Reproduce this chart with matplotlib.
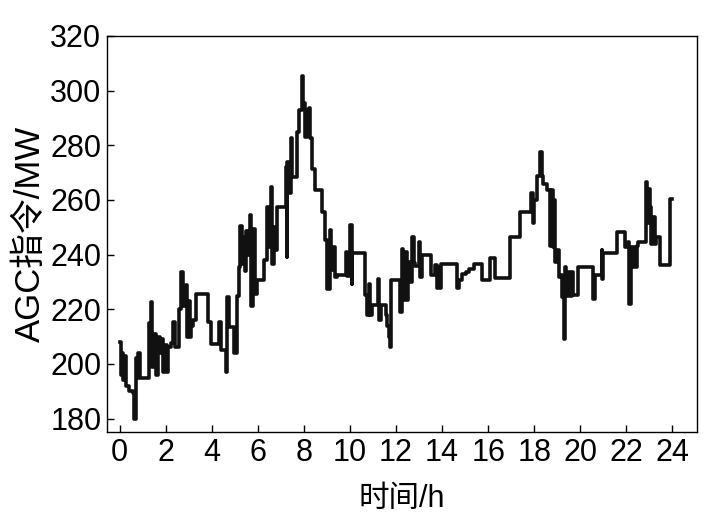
import matplotlib
matplotlib.use("Agg")
import matplotlib.pyplot as plt

plt.rcParams['font.family'] = ['Liberation Sans', 'Noto Sans CJK SC', 'DejaVu Sans']

hours = [0.00, 0.05, 0.10, 0.16, 0.22, 0.26, 0.30, 0.43, 0.57, 0.64, 0.71, 0.76, 0.82, 0.90,
         1.28, 1.35, 1.43, 1.50, 1.58, 1.65, 1.75, 1.83, 1.90, 1.97, 2.05, 2.12, 2.25, 2.32,
         2.40, 2.56, 2.66, 2.74, 2.88, 2.92, 2.98, 3.05, 3.12, 3.20, 3.31, 3.85, 3.96, 4.32,
         4.40, 4.61, 4.65, 4.73, 4.98, 5.08, 5.17, 5.24, 5.30, 5.36, 5.44, 5.50, 5.58, 5.66,
         5.71, 5.80, 5.88, 5.95, 6.25, 6.42, 6.50, 6.56, 6.63, 6.70, 6.78, 6.85, 7.21, 7.25,
         7.29, 7.35, 7.43, 7.50, 7.72, 7.80, 7.92, 7.97, 8.05, 8.12, 8.21, 8.26, 8.36, 8.50,
         8.80, 8.90, 9.02, 9.14, 9.20, 9.28, 9.35, 9.44, 9.81, 9.86, 10.02, 10.07, 10.10,
         10.67, 10.74, 10.82, 10.88, 10.94, 11.22, 11.28, 11.33, 11.55, 11.62, 11.68, 11.73,
         11.77, 12.19, 12.24, 12.32, 12.38, 12.47, 12.53, 12.62, 12.70, 12.77, 12.84, 12.98,
         13.05, 13.13, 13.50, 13.70, 13.78, 13.84, 13.90, 13.96, 14.65, 14.72, 14.86, 15.02,
         15.15, 15.37, 15.72, 16.08, 16.30, 16.95, 17.38, 17.88, 17.93, 17.97, 18.12, 18.25,
         18.32, 18.40, 18.55, 18.68, 18.74, 18.80, 18.86, 18.92, 19.00, 19.06, 19.14, 19.20,
         19.28, 19.33, 19.40, 19.47, 19.55, 19.62, 19.69, 19.91, 20.56, 20.63, 20.92, 20.96,
         21.00, 21.60, 21.93, 22.07, 22.12, 22.18, 22.26, 22.32, 22.40, 22.46, 22.52, 22.84,
         22.90, 22.96, 23.02, 23.08, 23.15, 23.22, 23.30, 23.44, 23.90, 24.00]

agc_mw = [208, 196, 204, 194, 203, 193, 192, 190, 189.5, 180, 202, 195, 204, 195,
          215, 222.5, 199, 211, 196, 210, 204, 209, 197, 207, 197, 206, 207.5, 215.5,
          206, 220, 233.5, 221, 229, 210, 223, 210, 214, 216, 225.5, 215.4, 207.3, 215.4,
          205, 197, 224.5, 213.6, 203.8, 225, 235.5, 250.5, 236.5, 246.5, 234, 248.5, 240, 254.5,
          221, 249.5, 225.5, 230.6, 238, 257.5, 242.8, 264.8, 236.7, 250.2, 241.6, 257.5, 272, 239,
          274, 262.4, 282.5, 268.5, 285, 293, 305.5, 295.3, 283, 293, 293.5, 282.5, 271.5, 263.6,
          255.6, 245.2, 227.5, 249, 234.3, 242.8, 231.8, 232.4, 241, 232, 250.7, 229.4, 240.4,
          225.1, 217.8, 229.4, 217.8, 221.4, 231.2, 216, 221.4, 218, 214, 210, 206,
          230.6, 219, 242.2, 223.5, 241, 223.3, 237.3, 230, 246.5, 237, 236, 244.6,
          231.8, 239.7, 232.5, 236.1, 227.6, 235.5, 227.6, 236.5, 227.6, 230.6, 233, 233.7,
          234.9, 236.5, 230.6, 238.6, 231.6, 246.5, 255.6, 262.4, 251.4, 260, 268.7, 277.6,
          268.7, 266, 263.6, 243, 263.6, 242.8, 260, 237.3, 241.6, 231.8, 232.4, 224.5,
          209.2, 235.5, 225, 233.6, 225, 233.6, 225.1, 235.5, 223.9, 232.4, 241.6, 231,
          240.4, 248.3, 242.8, 244.6, 222, 242.8, 235.5, 242.8, 235.5, 243, 244.6, 266.6,
          251.4, 264, 257.5, 244, 253.8, 244, 246.5, 236.1, 260.5, 260.5]

x_ticks = list(range(0, 25, 2))
y_ticks = list(range(180, 321, 20))

fig = plt.figure(figsize=(7.03, 5.29), dpi=100)
ax = fig.add_axes([0.152, 0.183, 0.839, 0.749])
ax.step(hours, agc_mw, where='post', color='#111111', lw=2.6)

ax.set_xlim(-0.55, 25.05)
ax.set_ylim(175, 320)
ax.set_xticks(x_ticks)
ax.set_yticks(y_ticks)
ax.tick_params(direction='in', length=5, width=1, labelsize=22, pad=4)
for s in ax.spines.values():
    s.set_linewidth(1.0)
ax.set_xlabel('时间/h', fontsize=22, labelpad=12)
ax.set_ylabel('AGC指令/MW', fontsize=25, labelpad=2)

fig.savefig('out.png', dpi=100)
